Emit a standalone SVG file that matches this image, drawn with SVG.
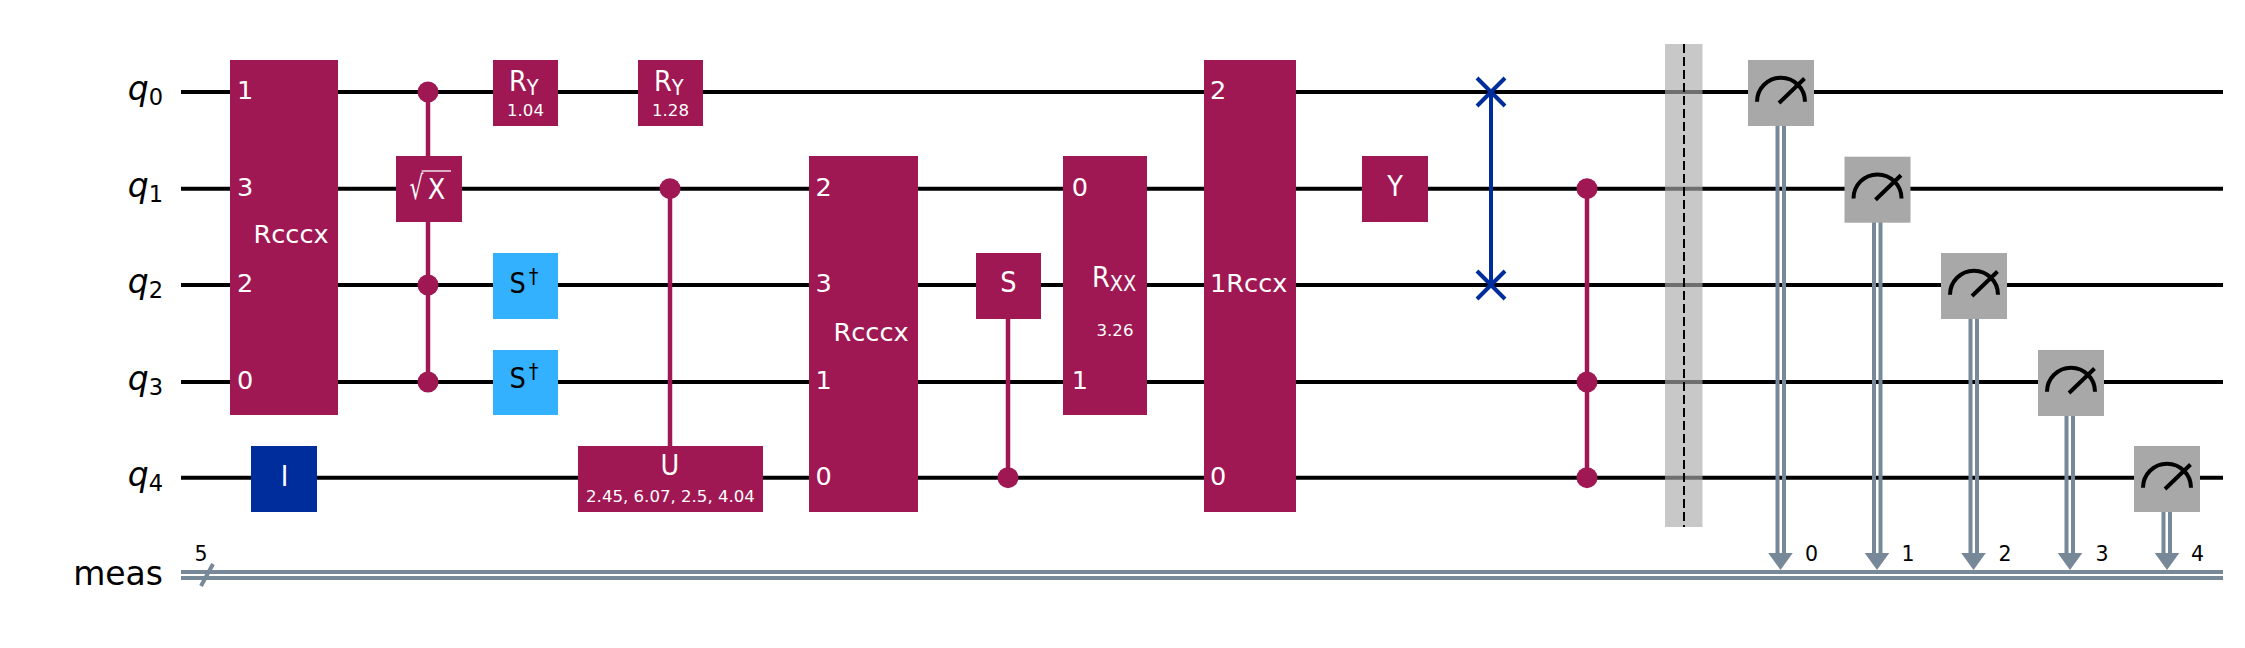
<svg xmlns="http://www.w3.org/2000/svg" width="2245" height="648" viewBox="0 0 2245 648">
<style>
text{font-family:"DejaVu Sans","Liberation Sans",sans-serif;font-size:25.600px;fill:#fff}
.m{text-anchor:middle}
.s{font-size:16.600px}
.t{font-stretch:condensed;font-size:28.500px}
.sub{font-stretch:condensed;font-size:21.500px}
.k{fill:#000}
.reg{fill:#000;font-size:33px;text-anchor:end}
.reg .i{font-style:italic}
.reg .d{font-size:22.500px}
.n{fill:#000;font-size:20.500px;text-anchor:middle}
.g{fill:#9f1853}
.wire{stroke:#000;stroke-width:4;fill:none}
.cl{stroke:#778899;stroke-width:4;fill:none}
.ctl{stroke:#9f1853;stroke-width:4.500;fill:none}
.sw{stroke:#002d9c;stroke-width:4;fill:none}
.mb{fill:#a8a8a8}
.dial{stroke:#000;stroke-width:4;fill:none}
</style>
<defs>
<g id="dial"><rect class="mb" x="-33" y="-32" width="66" height="66"/><path class="dial" d="M-24 9.7A24 24 0 0 1 24 9.7M-2 11L23.500 -13.500"/></g>
<polygon id="ah" points="-12.300,0 12.300,0 0,17" fill="#778899"/>
</defs>
<g id="wires">
<path class="wire" d="M181 92H2223M181 188.700H2223M181 285H2223M181 382H2223M181 477.700H2223"/>
<path class="cl" d="M181 572H2223M181 578H2223M201 586L213 564"/>
</g>
<g id="connectors">
<path class="ctl" d="M428 92V382M670 188.700V446M1008 319V477.700M1587 188.700V477.700"/>
<g class="g"><circle cx="428" cy="92" r="10.500"/><circle cx="428" cy="285" r="10.500"/><circle cx="428" cy="382" r="10.500"/><circle cx="670" cy="188.700" r="10.500"/><circle cx="1008" cy="477.700" r="10.500"/><circle cx="1587" cy="188.700" r="10.500"/><circle cx="1587" cy="382" r="10.500"/><circle cx="1587" cy="477.700" r="10.500"/></g>
<path class="sw" d="M1491 92V285M1477 78L1505 106M1477 106L1505 78M1477 271L1505 299M1477 299L1505 271"/>
<path class="cl" d="M1777.500 126V555M1784 126V555M1874 222V555M1880.500 222V555M1970.500 319V555M1977 319V555M2066.500 415V555M2073 415V555M2163.500 512V555M2170 512V555"/>
<use href="#ah" x="1780.500" y="553"/><use href="#ah" x="1877" y="553"/><use href="#ah" x="1973.500" y="553"/><use href="#ah" x="2070" y="553"/><use href="#ah" x="2167" y="553"/>
</g>
<g id="labels">
<text class="reg" y="100" x="163"><tspan class="i">q</tspan><tspan class="d" dy="5">0</tspan></text>
<text class="reg" y="197" x="163"><tspan class="i">q</tspan><tspan class="d" dy="5">1</tspan></text>
<text class="reg" y="293" x="163"><tspan class="i">q</tspan><tspan class="d" dy="5">2</tspan></text>
<text class="reg" y="390" x="163"><tspan class="i">q</tspan><tspan class="d" dy="5">3</tspan></text>
<text class="reg" y="486" x="163"><tspan class="i">q</tspan><tspan class="d" dy="5">4</tspan></text>
<text class="reg" y="585" x="163">meas</text>
<text class="n" x="201" y="560.700">5</text>
<text class="n" x="1811.500" y="560.700">0</text><text class="n" x="1908" y="560.700">1</text><text class="n" x="2005" y="560.700">2</text><text class="n" x="2102" y="560.700">3</text><text class="n" x="2197.500" y="560.700">4</text>
</g>
<g id="rcccx1"><rect class="g" x="230" y="60" width="108" height="355"/><text x="237" y="99">1</text><text x="237" y="196">3</text><text x="237" y="292">2</text><text x="237" y="388.500">0</text><text x="253.500" y="243">Rcccx</text></g>
<g id="sx"><rect class="g" x="396" y="156" width="66" height="66"/><text transform="translate(409.500 198.500) scale(1 1.360)" class="sub" style="font-size:24px">√</text><path d="M421.700 171H451" stroke="#fff" stroke-width="1.300" fill="none"/><text class="m t" x="436.500" y="199">X</text></g>
<g id="i"><rect x="251" y="446" width="66" height="66" fill="#002d9c"/><text class="m t" x="284.500" y="485.700">I</text></g>
<g id="ry1"><rect class="g" x="493" y="60" width="65" height="66"/><text class="t" x="509" y="90.500">R<tspan class="sub" dy="4">Y</tspan></text><text class="m s" x="525.500" y="116.300">1.04</text></g>
<g id="sdg1"><rect x="493" y="253" width="65" height="66" fill="#33b1ff"/><text class="k t" x="509.500" y="292.700">S<tspan class="sub" dx="3" dy="-9">†</tspan></text></g>
<g id="sdg2"><rect x="493" y="350" width="65" height="65" fill="#33b1ff"/><text class="k t" x="509.500" y="388">S<tspan class="sub" dx="3" dy="-9">†</tspan></text></g>
<g id="ry2"><rect class="g" x="638" y="60" width="65" height="66"/><text class="t" x="654" y="90.500">R<tspan class="sub" dy="4">Y</tspan></text><text class="m s" x="670.500" y="116.300">1.28</text></g>
<g id="u"><rect class="g" x="578" y="446" width="185" height="66"/><text class="m t" x="670" y="475">U</text><text class="m s" x="670.500" y="502">2.45, 6.07, 2.5, 4.04</text></g>
<g id="rcccx2"><rect class="g" x="809" y="156" width="109" height="356"/><text x="815.500" y="196">2</text><text x="815.500" y="292">3</text><text x="815.500" y="388.500">1</text><text x="815.500" y="484.500">0</text><text x="833.500" y="340.700">Rcccx</text></g>
<g id="s"><rect class="g" x="976" y="253" width="65" height="66"/><text class="m t" x="1008.500" y="292">S</text></g>
<g id="rxx"><rect class="g" x="1063" y="156" width="84" height="259"/><text x="1071.700" y="196">0</text><text x="1071.700" y="388.500">1</text><text class="t" x="1092" y="286.700">R<tspan class="sub" dy="4">XX</tspan></text><text class="m s" x="1115" y="336">3.26</text></g>
<g id="rccx"><rect class="g" x="1204" y="60" width="92" height="452"/><text x="1210" y="99">2</text><text x="1210" y="292">1Rccx</text><text x="1210" y="484.500">0</text></g>
<g id="y"><rect class="g" x="1362" y="156" width="66" height="66"/><text class="m t" x="1395" y="196">Y</text></g>
<g id="barrier"><rect x="1665" y="44" width="37.500" height="483" fill="#aaa" fill-opacity=".65"/><path d="M1684 44V527" stroke="#000" stroke-width="2" stroke-dasharray="9 4" fill="none"/></g>
<g id="m0"><use href="#dial" x="1781" y="92"/></g>
<g id="m1"><use href="#dial" x="1877.500" y="188.700"/></g>
<g id="m2"><use href="#dial" x="1974" y="285"/></g>
<g id="m3"><use href="#dial" x="2071" y="382"/></g>
<g id="m4"><use href="#dial" x="2167" y="478"/></g>
</svg>
